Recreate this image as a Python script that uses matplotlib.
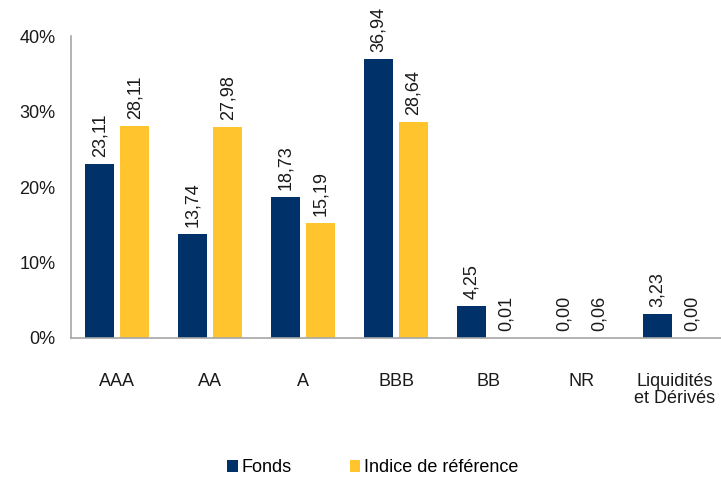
import matplotlib
matplotlib.use("Agg")
import matplotlib.pyplot as plt
import numpy as np
from matplotlib.ticker import FuncFormatter

categories = ["AAA", "AA", "A", "BBB", "BB", "NR", "Liquidités\net Dérivés"]
fonds = [23.11, 13.74, 18.73, 36.94, 4.25, 0.00, 3.23]
indice = [28.11, 27.98, 15.19, 28.64, 0.01, 0.06, 0.00]
series_names = ["Fonds", "Indice de référence"]
yticks = [0, 10, 20, 30, 40]

navy = "#003269"
yellow = "#FFC42E"

plt.rcParams["font.family"] = ["Liberation Sans", "DejaVu Sans"]

fig = plt.figure(figsize=(7.21, 4.79), dpi=100)
ax = fig.add_axes([71/721, (479-338)/479, 650/721, (338-36)/479])

x = np.arange(len(categories))
w = 29/93
off = (29 + 6) / 2 / 93
b1 = ax.bar(x - off, fonds, w, color=navy, label=series_names[0])
b2 = ax.bar(x + off, indice, w, color=yellow, label=series_names[1])

for bars, vals in ((b1, fonds), (b2, indice)):
    for rect, v in zip(bars, vals):
        ax.annotate(f"{v:.2f}".replace(".", ","),
                    (rect.get_x() + rect.get_width()/2, rect.get_height()),
                    xytext=(0, 5), textcoords="offset points",
                    rotation=90, ha="center", va="bottom", fontsize=13, color="#1a1a1a")

ax.set_xlim(-0.5, len(categories) - 0.5)
ax.set_ylim(0, 40)
ax.set_yticks(yticks)
ax.yaxis.set_major_formatter(FuncFormatter(lambda v, p: f"{v:.0f}%"))
ax.set_xticks(x)
ax.set_xticklabels(categories, fontsize=13, linespacing=1.0)
ax.tick_params(axis="x", length=0, pad=25, colors="#1a1a1a")
ax.tick_params(axis="y", length=0, pad=11, labelsize=13, colors="#1a1a1a")

for s in ("top", "right"):
    ax.spines[s].set_visible(False)
for s in ("left", "bottom"):
    ax.spines[s].set_color("#A6A6A6")
    ax.spines[s].set_linewidth(1.2)

fig.legend(handles=[b1, b2], labels=series_names, loc="center", ncol=2,
           bbox_to_anchor=(0.517, 1 - 468/479), frameon=False, fontsize=13,
           handlelength=0.6, handleheight=0.6, handletextpad=0.2,
           columnspacing=3.2)

fig.savefig("out.png", dpi=100)
